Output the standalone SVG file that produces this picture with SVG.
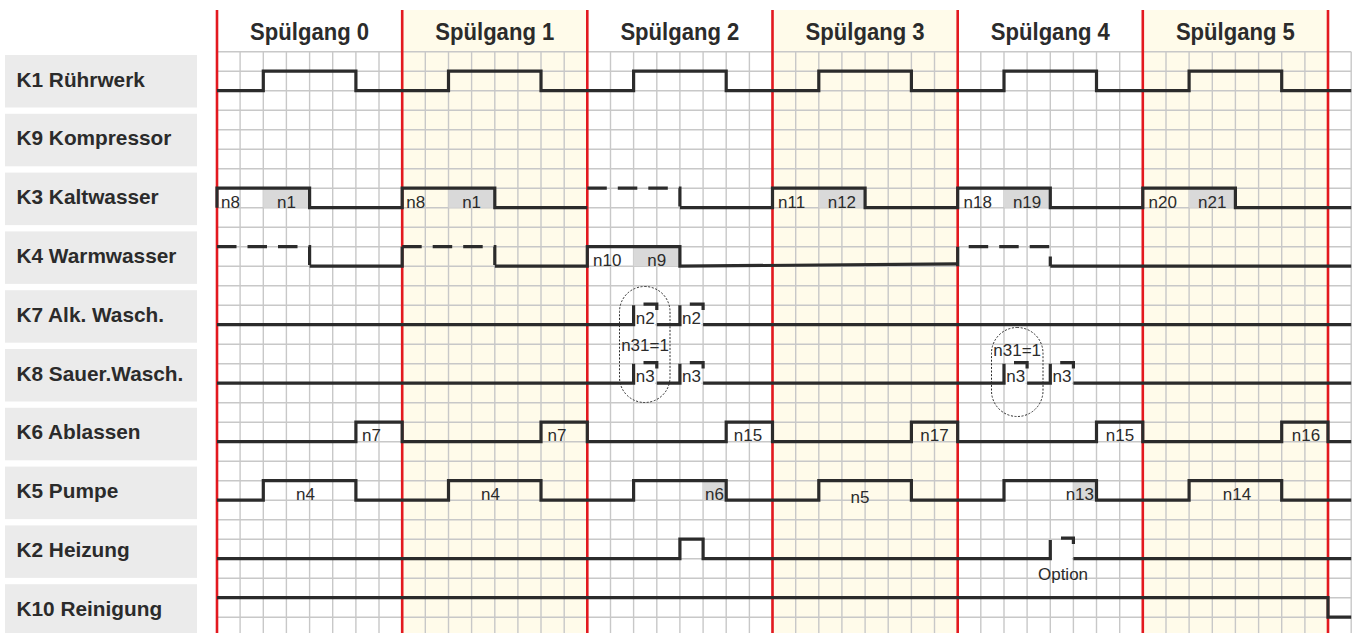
<svg xmlns="http://www.w3.org/2000/svg" width="1357" height="633" viewBox="0 0 1357 633">
<style>
.lbl{fill:#ebebeb}
.lt{font-family:"Liberation Sans",Arial,sans-serif;font-weight:bold;font-size:20.8px;fill:#2b2b2b}
.hd{font-family:"Liberation Sans",Arial,sans-serif;font-weight:bold;font-size:23.5px;fill:#2b2b2b;text-anchor:middle}
.nt{font-family:"Liberation Sans",Arial,sans-serif;font-size:17px;fill:#2b2b2b}
.mid{text-anchor:middle}
.end{text-anchor:end}
.grid{fill:none;stroke:#c8c8c8;stroke-width:1.4}
.red{fill:none;stroke:#e3191f;stroke-width:2.6}
.sig{fill:none;stroke:#2b2b2b;stroke-width:3.2;stroke-linejoin:miter;stroke-linecap:butt}
.dash{fill:none;stroke:#2b2b2b;stroke-width:3.2;stroke-dasharray:19.5 11}
.gbox{fill:#d9d9d9}
.wbox{fill:#ffffff}
.cap{fill:none;stroke:#2b2b2b;stroke-width:1;stroke-dasharray:2 1.6}
.yel{fill:#fffbea}
</style>
<rect width="1357" height="633" fill="#ffffff"/>
<g id="sections">
<rect class="yel" x="402.2" y="10" width="185.1" height="623"/>
<rect class="yel" x="772.5" y="10" width="185.2" height="623"/>
<rect class="yel" x="1142.8" y="10" width="185.2" height="623"/>
</g>
<g id="grid">
<path class="grid" d="M217 51.7V633M240.1 51.7V633M263.3 51.7V633M286.4 51.7V633M309.6 51.7V633M332.7 51.7V633M355.9 51.7V633M379 51.7V633M402.2 51.7V633M425.3 51.7V633M448.5 51.7V633M471.6 51.7V633M494.8 51.7V633M517.9 51.7V633M541 51.7V633M564.2 51.7V633M587.3 51.7V633M610.5 51.7V633M633.6 51.7V633M656.8 51.7V633M679.9 51.7V633M703.1 51.7V633M726.2 51.7V633M749.4 51.7V633M772.5 51.7V633M795.7 51.7V633M818.8 51.7V633M841.9 51.7V633M865.1 51.7V633M888.2 51.7V633M911.4 51.7V633M934.5 51.7V633M957.7 51.7V633M980.8 51.7V633M1004 51.7V633M1027.1 51.7V633M1050.3 51.7V633M1073.4 51.7V633M1096.5 51.7V633M1119.7 51.7V633M1142.8 51.7V633M1166 51.7V633M1189.1 51.7V633M1212.3 51.7V633M1235.4 51.7V633M1258.6 51.7V633M1281.7 51.7V633M1304.9 51.7V633M1328 51.7V633M1351.2 51.7V633"/>
<path class="grid" d="M217 51.7H1351.2M217 71.2H1351.2M217 90.7H1351.2M217 110.2H1351.2M217 129.7H1351.2M217 149.2H1351.2M217 168.7H1351.2M217 188.2H1351.2M217 207.7H1351.2M217 227.2H1351.2M217 246.7H1351.2M217 266.2H1351.2M217 285.7H1351.2M217 305.2H1351.2M217 324.7H1351.2M217 344.2H1351.2M217 363.7H1351.2M217 383.2H1351.2M217 402.7H1351.2M217 422.2H1351.2M217 441.7H1351.2M217 461.2H1351.2M217 480.7H1351.2M217 500.2H1351.2M217 519.7H1351.2M217 539.2H1351.2M217 558.7H1351.2M217 578.2H1351.2M217 597.7H1351.2M217 617.2H1351.2"/>
</g>
<g id="red-lines">
<path class="red" d="M217 10V633M402.2 10V633M587.3 10V633M772.5 10V633M957.7 10V633M1142.8 10V633M1328 10V633"/>
</g>
<g id="headers">
<text class="hd" x="309.6" y="39.5" textLength="119" lengthAdjust="spacingAndGlyphs">Spülgang 0</text>
<text class="hd" x="494.8" y="39.5" textLength="119" lengthAdjust="spacingAndGlyphs">Spülgang 1</text>
<text class="hd" x="679.9" y="39.5" textLength="119" lengthAdjust="spacingAndGlyphs">Spülgang 2</text>
<text class="hd" x="865.1" y="39.5" textLength="119" lengthAdjust="spacingAndGlyphs">Spülgang 3</text>
<text class="hd" x="1050.3" y="39.5" textLength="119" lengthAdjust="spacingAndGlyphs">Spülgang 4</text>
<text class="hd" x="1235.4" y="39.5" textLength="119" lengthAdjust="spacingAndGlyphs">Spülgang 5</text>
</g>
<g id="labels">
<g id="lab-K1"><rect class="lbl" x="5" y="55" width="192" height="52.5"/><text class="lt" x="16.5" y="86.5">K1 Rührwerk</text></g>
<g id="lab-K9"><rect class="lbl" x="5" y="113.8" width="192" height="52.5"/><text class="lt" x="16.5" y="145.3">K9 Kompressor</text></g>
<g id="lab-K3"><rect class="lbl" x="5" y="172.6" width="192" height="52.5"/><text class="lt" x="16.5" y="204.1">K3 Kaltwasser</text></g>
<g id="lab-K4"><rect class="lbl" x="5" y="231.4" width="192" height="52.5"/><text class="lt" x="16.5" y="262.9">K4 Warmwasser</text></g>
<g id="lab-K7"><rect class="lbl" x="5" y="290.2" width="192" height="52.5"/><text class="lt" x="16.5" y="321.7">K7 Alk. Wasch.</text></g>
<g id="lab-K8"><rect class="lbl" x="5" y="349" width="192" height="52.5"/><text class="lt" x="16.5" y="380.5">K8 Sauer.Wasch.</text></g>
<g id="lab-K6"><rect class="lbl" x="5" y="407.8" width="192" height="52.5"/><text class="lt" x="16.5" y="439.3">K6 Ablassen</text></g>
<g id="lab-K5"><rect class="lbl" x="5" y="466.6" width="192" height="52.5"/><text class="lt" x="16.5" y="498.1">K5 Pumpe</text></g>
<g id="lab-K2"><rect class="lbl" x="5" y="525.4" width="192" height="52.5"/><text class="lt" x="16.5" y="556.9">K2 Heizung</text></g>
<g id="lab-K10"><rect class="lbl" x="5" y="584.2" width="192" height="52.5"/><text class="lt" x="16.5" y="615.7">K10 Reinigung</text></g>
</g>
<g id="connectors">
<g id="sig-K1">
<path class="sig" d="M217 90.7H263.3V71.2H355.9V90.7H448.5V71.2H541V90.7H633.6V71.2H726.2V90.7H818.8V71.2H911.4V90.7H1004V71.2H1096.5V90.7H1189.1V71.2H1281.7V90.7H1351.2"/>
</g>
<g id="sig-K3">
<rect class="gbox" x="263.3" y="188.2" width="46.3" height="19.5"/>
<rect class="gbox" x="448.5" y="188.2" width="46.3" height="19.5"/>
<rect class="gbox" x="818.8" y="188.2" width="46.3" height="19.5"/>
<rect class="gbox" x="1004" y="188.2" width="46.3" height="19.5"/>
<rect class="gbox" x="1189.1" y="188.2" width="46.3" height="19.5"/>
<path class="sig" d="M217 207.7V188.2H309.6V207.7H402.2V188.2H494.8V207.7H587.3"/>
<path class="dash" d="M587.3 188.2H679.9V207.7"/>
<path class="sig" d="M679.9 207.7H772.5V188.2H865.1V207.7H957.7V188.2H1050.3V207.7H1142.8V188.2H1235.4V207.7H1351.2"/>
<text class="nt" x="221" y="207.5">n8</text><text class="nt mid" x="286.4" y="207.5">n1</text>
<text class="nt" x="406.2" y="207.5">n8</text><text class="nt mid" x="471.6" y="207.5">n1</text>
<text class="nt" x="778" y="207.5">n11</text><text class="nt mid" x="841.9" y="207.5">n12</text>
<text class="nt" x="963.5" y="207.5">n18</text><text class="nt mid" x="1027.1" y="207.5">n19</text>
<text class="nt" x="1148.5" y="207.5">n20</text><text class="nt mid" x="1212.3" y="207.5">n21</text>
</g>
<g id="sig-K4">
<rect class="gbox" x="633.6" y="246.7" width="46.3" height="19.5"/>
<path class="dash" d="M217 246.7H309.6V266.2"/>
<path class="sig" d="M309.6 266.2H402.2V246.7"/>
<path class="dash" d="M402.2 246.7H494.8V266.2"/>
<path class="sig" d="M494.8 266.2H587.3V246.7H679.9V266.2L957.7 263.8"/>
<path class="dash" d="M957.7 266.2V246.7H1050.3V266.2"/>
<path class="sig" d="M1050.3 266.2H1351.2"/>
<text class="nt" x="593" y="266">n10</text><text class="nt mid" x="656.8" y="266">n9</text>
</g>
<g id="sig-K7">
<rect class="wbox" x="635.2" y="306.8" width="20" height="19.6"/>
<rect class="wbox" x="681.5" y="306.8" width="20" height="19.6"/>
<path class="sig" d="M217 324.7H633.6V305.2M643.5 304.2H656.8V310M656.8 324.7H679.9V305.2M689.8 304.2H703.1V310M703.1 324.7H1351.2"/>
<text class="nt" x="635.8" y="323.5">n2</text><text class="nt" x="682.1" y="323.5">n2</text>
</g>
<g id="sig-K8">
<rect class="wbox" x="635.2" y="365.3" width="20" height="19.6"/>
<rect class="wbox" x="681.5" y="365.3" width="20" height="19.6"/>
<rect class="wbox" x="1005.6" y="365.3" width="20" height="19.6"/>
<rect class="wbox" x="1051.9" y="365.3" width="20" height="19.6"/>
<path class="sig" d="M217 383.2H633.6V363.7M643.5 362.7H656.8V368.5M656.8 383.2H679.9V363.7M689.8 362.7H703.1V368.5M703.1 383.2H1004V363.7M1014 362.7H1027.1V368.5M1027.1 383.2H1050.3V363.7M1060.2 362.7H1073.4V368.5M1073.4 383.2H1351.2"/>
<text class="nt" x="635.8" y="382">n3</text><text class="nt" x="682.1" y="382">n3</text>
<text class="nt" x="1006.2" y="382">n3</text><text class="nt" x="1052.5" y="382">n3</text>
</g>
<g id="cond-n31">
<rect class="cap" x="619.5" y="286.5" width="50.5" height="116" rx="25.2"/>
<text class="nt mid" x="645" y="351">n31=1</text>
<rect class="cap" x="991.5" y="327.5" width="51.5" height="89" rx="25.7"/>
<text class="nt mid" x="1017.2" y="356">n31=1</text>
</g>
<g id="sig-K6">
<path class="sig" d="M217 441.7H355.9V422.2H402.2V441.7H541V422.2H587.3V441.7H726.2V422.2H772.5V441.7H911.4V422.2H957.7V441.7H1096.5V422.2H1142.8V441.7H1281.7V422.2H1328V441.7H1351.2"/>
<text class="nt" x="362" y="441">n7</text>
<text class="nt" x="547.5" y="441">n7</text>
<text class="nt mid" x="748" y="441">n15</text>
<text class="nt mid" x="934.5" y="441">n17</text>
<text class="nt mid" x="1120" y="441">n15</text>
<text class="nt mid" x="1306" y="441">n16</text>
</g>
<g id="sig-K5">
<rect class="gbox" x="703.1" y="480.7" width="23.1" height="19.5"/>
<rect class="gbox" x="1073.4" y="480.7" width="23.1" height="19.5"/>
<path class="sig" d="M217 500.2H263.3V480.7H355.9V500.2H448.5V480.7H541V500.2H633.6V480.7H726.2V500.2H818.8V480.7H911.4V500.2H1004V480.7H1096.5V500.2H1189.1V480.7H1281.7V500.2H1351.2"/>
<text class="nt mid" x="305.5" y="500">n4</text>
<text class="nt mid" x="490.5" y="500">n4</text>
<text class="nt end" x="724" y="500">n6</text>
<text class="nt mid" x="860" y="503">n5</text>
<text class="nt end" x="1094" y="500">n13</text>
<text class="nt mid" x="1237" y="500">n14</text>
</g>
<g id="sig-K2">
<rect class="wbox" x="1051.9" y="540.8" width="20" height="19.6"/>
<path class="sig" d="M217 558.7H679.9V539.2H703.1V558.7H1050.3V540M1061 538.2H1073.4V544M1073.4 558.7H1351.2"/>
<text class="nt mid" x="1063" y="580">Option</text>
</g>
<g id="sig-K10">
<path class="sig" d="M217 597.7H1328V617.2H1351.2"/>
</g>
</g>
</svg>
